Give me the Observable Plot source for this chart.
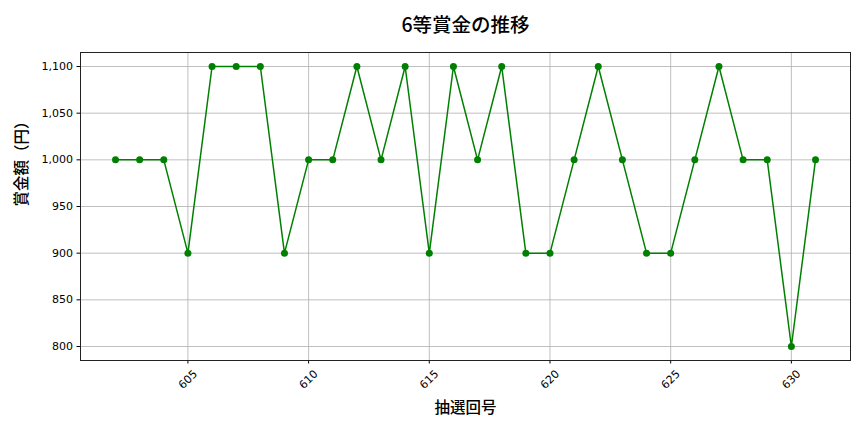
<!DOCTYPE html>
<html>
<head>
<meta charset="utf-8">
<script src="https://cdn.jsdelivr.net/npm/d3@7"></script>
<script src="https://cdn.jsdelivr.net/npm/@observablehq/plot@0.6"></script>
<style>
  html, body { margin: 0; padding: 0; background: #fff; }
  #chart svg { display: block; }
</style>
</head>
<body>
<div id="chart"></div>
<script>
const draws = [602,603,604,605,606,607,608,609,610,611,612,613,614,615,616,617,618,619,620,621,622,623,624,625,626,627,628,629,630,631];
const prizes = [1000,1000,1000,900,1100,1100,1100,900,1000,1000,1100,1000,1100,900,1100,1000,1100,900,900,1000,1100,1000,900,900,1000,1100,1000,1000,800,1000];
const xTicks = [605,610,615,620,625,630];
const yTicks = [800,850,900,950,1000,1050,1100];
const titleText = "6等賞金の推移";
const xLabel = "抽選回号";
const yLabel = "賞金額（円）";

const data = draws.map((d, i) => ({draw: d, prize: prizes[i]}));
const font = "'Noto Sans CJK JP', 'Noto Sans', sans-serif";
const tickFont = "'DejaVu Sans', sans-serif";

const chart = Plot.plot({
  width: 864,
  height: 432,
  marginLeft: 80,
  marginRight: 14,
  marginTop: 52,
  marginBottom: 72,
  style: {fontFamily: font, fontSize: "11px", color: "#000", background: "#fff"},
  x: {domain: [600.55, 632.45], label: null},
  y: {domain: [785, 1115], label: null},
  marks: [
    Plot.gridX(xTicks, {stroke: "#b0b0b0", strokeOpacity: 1, strokeWidth: 0.8}),
    Plot.gridY(yTicks, {stroke: "#b0b0b0", strokeOpacity: 1, strokeWidth: 0.8}),
    Plot.axisY({ticks: yTicks, tickSize: 3.5, tickPadding: 4, tickFormat: d3.format(","), label: null, fontSize: 11, fontFamily: tickFont}),
    Plot.axisX({ticks: xTicks, tickSize: 3.5, tickFormat: () => "", label: null}),
    Plot.text(xTicks, {x: d => d, frameAnchor: "bottom", text: d => String(d), rotate: -45, textAnchor: "middle", lineAnchor: "middle", dy: 19, fontSize: 11, fontFamily: tickFont}),
    Plot.frame({stroke: "#222", strokeWidth: 1}),
    Plot.line(data, {x: "draw", y: "prize", stroke: "#008000", strokeWidth: 1.5}),
    Plot.dot(data, {x: "draw", y: "prize", fill: "#008000", r: 3.5}),
    Plot.text([titleText], {text: d => d, frameAnchor: "top", dy: -27, fontSize: 19.5, fontWeight: 500, lineAnchor: "middle"}),
    Plot.text([xLabel], {text: d => d, frameAnchor: "bottom", dy: 48, fontSize: 15.5, fontWeight: 500, lineAnchor: "middle"}),
    Plot.text([yLabel], {text: d => d, frameAnchor: "left", dx: -58, rotate: -90, fontSize: 15.5, fontWeight: 500, lineAnchor: "middle"})
  ]
});
document.getElementById("chart").appendChild(chart);
</script>
</body>
</html>
